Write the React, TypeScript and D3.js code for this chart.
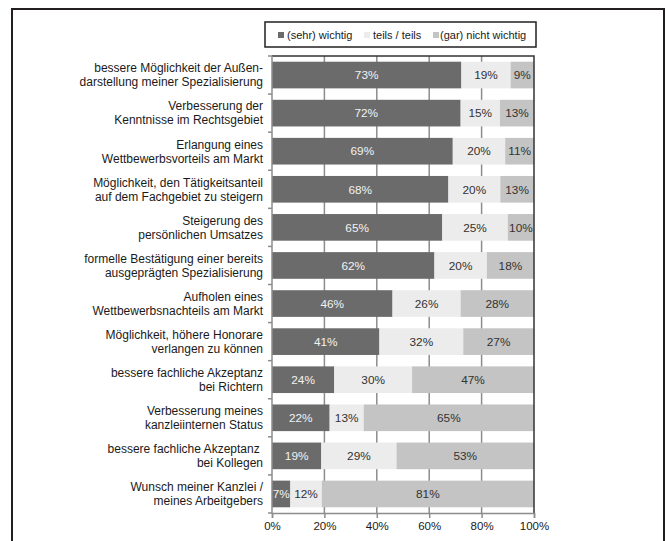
import { useEffect, useRef } from "react";
import * as d3 from "d3";

const categories = [
  ["bessere Möglichkeit der Außen-", "darstellung meiner Spezialisierung"],
  ["Verbesserung der", "Kenntnisse im Rechtsgebiet"],
  ["Erlangung eines", "Wettbewerbsvorteils am Markt"],
  ["Möglichkeit, den Tätigkeitsanteil", "auf dem Fachgebiet zu steigern"],
  ["Steigerung des", "persönlichen Umsatzes"],
  ["formelle Bestätigung einer bereits", "ausgeprägten Spezialisierung"],
  ["Aufholen eines", "Wettbewerbsnachteils am Markt"],
  ["Möglichkeit, höhere Honorare", "verlangen zu können"],
  ["bessere fachliche Akzeptanz", "bei Richtern"],
  ["Verbesserung meines", "kanzleiinternen Status"],
  ["bessere fachliche Akzeptanz ", "bei Kollegen"],
  ["Wunsch meiner Kanzlei /", "meines Arbeitgebers"],
];

const wichtig = [73, 72, 69, 68, 65, 62, 46, 41, 24, 22, 19, 7];
const teils = [19, 15, 20, 20, 25, 20, 26, 32, 30, 13, 29, 12];
const nicht = [9, 13, 11, 13, 10, 18, 28, 27, 47, 65, 53, 81];

const seriesNames = ["(sehr) wichtig", "teils / teils", "(gar) nicht wichtig"];
const tickValues = [0, 0.2, 0.4, 0.6, 0.8, 1];

const colors = ["#6b6b6b", "#ececec", "#c4c4c4"];
const textColors = ["#f2f2f2", "#333", "#333"];

const App = () => {
  const svgRef = useRef<SVGSVGElement>(null);

  useEffect(() => {
    const svg = d3.select(svgRef.current);
    svg.selectAll("*").remove();
    const font = "'Liberation Sans', Arial, sans-serif";

    const margin = { top: 56, left: 272, right: 132, bottom: 28 };
    const width = 666;
    const height = 541;

    // outer frame (bottom edge is cut off)
    svg
      .append("rect")
      .attr("x", 12)
      .attr("y", 9)
      .attr("width", 652)
      .attr("height", 600)
      .attr("fill", "none")
      .attr("stroke", "#231f20")
      .attr("stroke-width", 2);

    const x = d3.scaleLinear().domain([0, 1]).range([margin.left, width - margin.right]);
    const y = d3
      .scaleBand()
      .domain(categories.map((_, i) => String(i)))
      .range([margin.top, height - margin.bottom])
      .paddingInner(0.3)
      .paddingOuter(0.15);

    const rows = categories.map((_, i) => {
      const vals = [wichtig[i], teils[i], nicht[i]];
      const total = d3.sum(vals);
      let acc = 0;
      return vals.map((v, k) => {
        const s = acc / total;
        acc += v;
        return { i, k, v, x0: s, x1: acc / total };
      });
    });

    // grid lines
    svg
      .append("g")
      .selectAll("line")
      .data(tickValues.slice(1, -1))
      .enter()
      .append("line")
      .attr("x1", (d) => x(d))
      .attr("x2", (d) => x(d))
      .attr("y1", margin.top)
      .attr("y2", height - margin.bottom)
      .attr("stroke", "#8c8c8c")
      .attr("stroke-width", 1.5);

    // bars
    const segs = svg.append("g").selectAll("g").data(rows).enter().append("g");
    segs
      .selectAll("rect")
      .data((d) => d)
      .enter()
      .append("rect")
      .attr("x", (d) => x(d.x0))
      .attr("y", (d) => y(String(d.i))!)
      .attr("width", (d) => x(d.x1) - x(d.x0))
      .attr("height", y.bandwidth())
      .attr("fill", (d) => colors[d.k]);

    segs
      .selectAll("text")
      .data((d) => d)
      .enter()
      .append("text")
      .attr("x", (d) => (x(d.x0) + x(d.x1)) / 2)
      .attr("y", (d) => y(String(d.i))! + y.bandwidth() / 2)
      .attr("dy", "0.36em")
      .attr("text-anchor", "middle")
      .attr("font-family", font)
      .attr("font-size", 11.8)
      .attr("fill", (d) => textColors[d.k])
      .text((d) => `${d.v}%`);

    // plot border top and right
    svg
      .append("path")
      .attr("d", `M${x(0)},${margin.top}H${x(1)}V${height - margin.bottom}`)
      .attr("fill", "none")
      .attr("stroke", "#333")
      .attr("stroke-width", 1.5);

    // left axis with ticks at band boundaries
    const step = y.step();
    const bounds = d3.range(categories.length + 1).map((i) => margin.top + i * step);
    const left = svg.append("g").attr("stroke", "#8c8c8c").attr("stroke-width", 1.5);
    left
      .append("line")
      .attr("x1", x(0))
      .attr("x2", x(0))
      .attr("y1", margin.top)
      .attr("y2", height - margin.bottom);
    left
      .selectAll(".tk")
      .data(bounds)
      .enter()
      .append("line")
      .attr("x1", x(0) - 4)
      .attr("x2", x(0))
      .attr("y1", (d) => d)
      .attr("y2", (d) => d);

    // category labels
    const labels = svg
      .append("g")
      .attr("font-family", font)
      .attr("font-size", 12)
      .attr("fill", "#1a1a1a")
      .attr("text-anchor", "end");
    categories.forEach((lines, i) => {
      const cy = y(String(i))! + y.bandwidth() / 2;
      lines.forEach((t, j) => {
        labels
          .append("text")
          .attr("x", 263)
          .attr("y", cy + (j - 0.5) * 14)
          .attr("dy", "0.36em")
          .attr("xml:space", "preserve")
          .style("white-space", "pre")
          .text(t);
      });
    });

    // bottom axis
    const bottom = svg
      .append("g")
      .attr("transform", `translate(0,${height - margin.bottom})`)
      .call(
        d3
          .axisBottom(x)
          .tickValues(tickValues)
          .tickFormat((d) => `${Math.round(+d * 100)}%`)
          .tickSize(5)
      );
    bottom.select(".domain").attr("stroke", "#8c8c8c").attr("stroke-width", 1.5);
    bottom.selectAll(".tick line").attr("stroke", "#8c8c8c").attr("stroke-width", 1.5);
    bottom
      .selectAll(".tick text")
      .attr("font-family", font)
      .attr("font-size", 11.5)
      .attr("fill", "#1a1a1a")
      .attr("y", 9);

    // legend
    const lg = svg.append("g");
    lg.append("rect")
      .attr("x", 265)
      .attr("y", 22)
      .attr("width", 271)
      .attr("height", 25)
      .attr("fill", "#fff")
      .attr("stroke", "#231f20")
      .attr("stroke-width", 1.5);
    const lx = [278, 364, 433];
    seriesNames.forEach((n, k) => {
      lg.append("rect")
        .attr("x", lx[k])
        .attr("y", 32)
        .attr("width", 6)
        .attr("height", 6)
        .attr("fill", colors[k]);
      lg.append("text")
        .attr("x", lx[k] + (k === 2 ? 7 : 9))
        .attr("y", 35)
        .attr("dy", "0.36em")
        .attr("font-family", font)
        .attr("font-size", 11)
        .attr("fill", "#1a1a1a")
        .text(n);
    });
  }, []);

  return (
    <svg
      ref={svgRef}
      width={666}
      height={541}
      style={{ position: "absolute", left: 0, top: 0, background: "#fff" }}
    ></svg>
  );
};

export default App;
